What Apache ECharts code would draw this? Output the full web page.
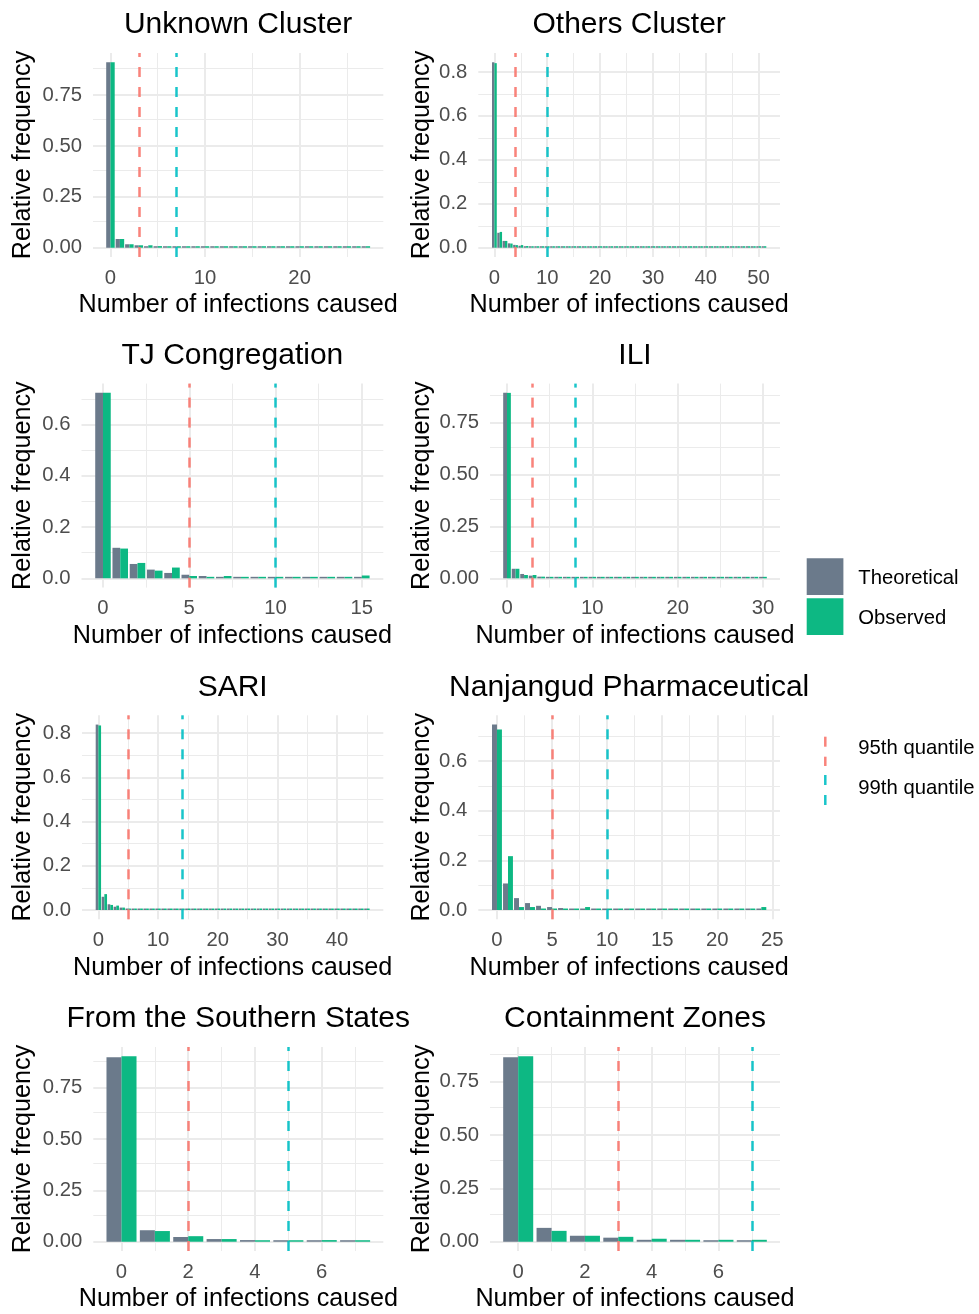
<!DOCTYPE html>
<html><head><meta charset="utf-8">
<script src="https://cdn.jsdelivr.net/npm/echarts@6/dist/echarts.min.js"></script>
<style>html,body{margin:0;padding:0;background:#fff}#c{width:979px;height:1314px}</style>
</head><body><div id="c"></div>
<script>
// ---------------- data ----------------
const panelTitles = ['Unknown Cluster', 'Others Cluster', 'TJ Congregation', 'ILI', 'SARI',
  'Nanjangud Pharmaceutical', 'From the Southern States', 'Containment Zones'];
const seriesNames = ['Theoretical', 'Observed'];
const quantileNames = ['95th quantile', '99th quantile'];
const xTitle = 'Number of infections caused';
const yTitle = 'Relative frequency';

const theoUnknown = [0.911, 0.043, 0.017, 0.012, 0.007, 0.004, 0.002, 0.001, 0.001, 0.001, 0.001, 0.001, 0.001, 0.001,
  0.001, 0.001, 0.001, 0.001, 0.001, 0.001, 0.001, 0.001, 0.001, 0.001, 0.001, 0.001, 0.001, 0.001];
const obsUnknown = [0.911, 0.043, 0.017, 0.012, 0.012, 0.008, 0.001, 0, 0, 0, 0, 0, 0, 0,
  0, 0, 0, 0, 0, 0, 0, 0, 0, 0, 0, 0, 0, 0.001];

const theoOthers = [0.844, 0.068, 0.031, 0.020, 0.013, 0.009, 0.006, 0.004, 0.003, 0.002, 0.002, 0.001, 0.001,
  0.001, 0.001, 0.001, 0.001, 0.001, 0.001, 0.001, 0.001, 0.001, 0.001, 0.001, 0.001, 0.001, 0.001,
  0.001, 0.001, 0.001, 0.001, 0.001, 0.001, 0.001, 0.001, 0.001, 0.001, 0.001, 0.001, 0.001, 0.001,
  0.001, 0.001, 0.001, 0.001, 0.001, 0.001, 0.001, 0.001, 0.001, 0.001, 0.001];
const obsOthers = [0.840, 0.072, 0.031, 0.019, 0.012, 0.012, 0.008, 0.003, 0.002, 0.001, 0.001, 0, 0,
  0, 0, 0, 0, 0, 0, 0, 0, 0, 0, 0, 0, 0, 0,
  0, 0, 0, 0, 0, 0, 0, 0, 0, 0, 0, 0, 0, 0,
  0, 0, 0, 0, 0, 0, 0, 0, 0, 0, 0.001];

const theoTJ = [0.723, 0.119, 0.056, 0.034, 0.021, 0.014, 0.009, 0.005, 0.003, 0.002, 0.002, 0.001, 0.002, 0.001, 0.001, 0.001];
const obsTJ = [0.723, 0.116, 0.060, 0.030, 0.042, 0.009, 0, 0.009, 0, 0, 0, 0, 0, 0, 0, 0.011];

const theoILI = [0.893, 0.046, 0.021, 0.013, 0.008, 0.005, 0.003, 0.002, 0.002, 0.001, 0.001, 0.001, 0.001, 0.001,
  0.001, 0.001, 0.001, 0.001, 0.001, 0.001, 0.001, 0.001, 0.001, 0.001, 0.001, 0.001, 0.001, 0.001, 0.001, 0.001, 0.001];
const obsILI = [0.893, 0.046, 0.016, 0.016, 0.008, 0.006, 0.002, 0.001, 0.001, 0, 0, 0, 0, 0,
  0, 0, 0, 0, 0, 0, 0, 0, 0, 0, 0, 0, 0, 0, 0, 0, 0.001];

const theoSARI = [0.839, 0.060, 0.026, 0.015, 0.011, 0.006, 0.004, 0.003, 0.002, 0.002, 0.001, 0.001, 0.001, 0.001,
  0.001, 0.001, 0.001, 0.001, 0.001, 0.001, 0.001, 0.001, 0.001, 0.001, 0.001, 0.001, 0.001, 0.001, 0.001, 0.001,
  0.001, 0.001, 0.001, 0.001, 0.001, 0.001, 0.001, 0.001, 0.001, 0.001, 0.001, 0.001, 0.001, 0.001, 0.001, 0.001];
const obsSARI = [0.835, 0.072, 0.023, 0.020, 0.011, 0.006, 0.004, 0.006, 0.001, 0.001, 0, 0, 0, 0,
  0, 0, 0, 0, 0, 0, 0, 0, 0, 0, 0, 0, 0, 0, 0, 0,
  0, 0, 0, 0, 0, 0, 0, 0, 0, 0, 0, 0, 0, 0, 0, 0.001];

const theoNanjangud = [0.747, 0.107, 0.048, 0.028, 0.017, 0.012, 0.008, 0.004, 0.004, 0.002, 0.002, 0.001, 0.001,
  0.001, 0.001, 0.001, 0.001, 0.001, 0.001, 0.001, 0.001, 0.001, 0.001, 0.001, 0.001];
const obsNanjangud = [0.727, 0.217, 0.012, 0.012, 0, 0, 0, 0, 0.012, 0, 0, 0, 0,
  0, 0, 0, 0, 0, 0, 0, 0, 0, 0, 0, 0.012];

const theoSouthern = [0.898, 0.056, 0.023, 0.013, 0.008, 0.003, 0.003, 0.002];
const obsSouthern = [0.903, 0.052, 0.027, 0.013, 0.003, 0, 0.008, 0.003];

const theoContainment = [0.865, 0.065, 0.028, 0.019, 0.009, 0.009, 0.005, 0.005];
const obsContainment = [0.870, 0.051, 0.028, 0.023, 0.014, 0.009, 0.009, 0.009];

const q95 = [3, 4, 5, 3, 5, 5, 2, 3];
const q99 = [7, 10, 10, 8, 14, 10, 5, 7];

const xBreaks = [[0, 10, 20], [0, 10, 20, 30, 40, 50], [0, 5, 10, 15], [0, 10, 20, 30],
  [0, 10, 20, 30, 40], [0, 5, 10, 15, 20, 25], [0, 2, 4, 6], [0, 2, 4, 6]];
const xMinorBreaks = [[5, 15, 25], [5, 15, 25, 35, 45], [2.5, 7.5, 12.5], [5, 15, 25],
  [5, 15, 25, 35, 45], [2.5, 7.5, 12.5, 17.5, 22.5], [1, 3, 5, 7], [1, 3, 5, 7]];
const yBreaks = [[0, 0.25, 0.5, 0.75], [0, 0.2, 0.4, 0.6, 0.8], [0, 0.2, 0.4, 0.6], [0, 0.25, 0.5, 0.75],
  [0, 0.2, 0.4, 0.6, 0.8], [0, 0.2, 0.4, 0.6], [0, 0.25, 0.5, 0.75], [0, 0.25, 0.5, 0.75]];
const yMinorBreaks = [[0.125, 0.375, 0.625, 0.875], [0.1, 0.3, 0.5, 0.7], [0.1, 0.3, 0.5, 0.7], [0.125, 0.375, 0.625, 0.875],
  [0.1, 0.3, 0.5, 0.7], [0.1, 0.3, 0.5, 0.7], [0.125, 0.375, 0.625, 0.875], [0.125, 0.375, 0.625, 0.875]];
const yDigits = [2, 1, 1, 2, 1, 1, 2, 2];

const theoAll = [theoUnknown, theoOthers, theoTJ, theoILI, theoSARI, theoNanjangud, theoSouthern, theoContainment];
const obsAll = [obsUnknown, obsOthers, obsTJ, obsILI, obsSARI, obsNanjangud, obsSouthern, obsContainment];

// ---------------- style / layout ----------------
const FONT = '"Liberation Sans", Arial, Helvetica, sans-serif';
const GRAY = '#6B7A8B', GREEN = '#0DB883', RED = '#F8766D', CYAN = '#00BFC4', GRID = '#EBEBEB';
const TICK_FS = 20.3, AXT_FS = 25.2, TITLE_FS = 30;
const panelLeft = [93, 478.3, 81.5, 490, 82, 478.3, 93.3, 490];
const colRight = [383.3, 780];
const rowTop = [53, 383.6, 715.3, 1047];
const PH = 204;
const yTitleX = [23.3, 421.6];

const grids = [], xAxes = [], yAxes = [], series = [], titles = [];

function barRenderer(offset, color) {
  return function (params, api) {
    const k = api.value(0), v = api.value(1);
    const a = api.coord([k + offset - 0.225, 0]);
    const b = api.coord([k + offset + 0.225, v]);
    const h = Math.max(a[1] - b[1], 1.5);
    return { type: 'rect', shape: { x: a[0], y: a[1] - h, width: b[0] - a[0], height: h },
      style: { fill: color } };
  };
}

for (let i = 0; i < 8; i++) {
  const col = i % 2, row = Math.floor(i / 2);
  const left = panelLeft[i], right = colRight[col], top = rowTop[row];
  const theo = theoAll[i], obs = obsAll[i];
  const kmax = theo.length - 1;
  const xSpan = kmax + 0.9;
  const ymax = Math.max(...theo, ...obs);
  grids.push({ left: left, top: top, width: right - left, height: PH, outerBoundsMode: 'none', containLabel: false });
  xAxes.push({
    type: 'value', gridIndex: i,
    min: -0.45 - 0.05 * xSpan, max: kmax + 0.45 + 0.05 * xSpan,
    axisLine: { show: false }, axisTick: { show: false }, splitLine: { show: false },
    axisLabel: { customValues: xBreaks[i], formatter: v => String(v), fontSize: TICK_FS, color: '#4D4D4D',
      fontFamily: FONT, margin: 11 },
    name: xTitle, nameLocation: 'middle', nameGap: 48.5, nameMoveOverlap: false,
    nameTextStyle: { fontSize: AXT_FS, color: '#000', fontFamily: FONT, verticalAlign: 'middle' }
  });
  const digits = yDigits[i];
  yAxes.push({
    type: 'value', gridIndex: i,
    min: -0.05 * ymax, max: 1.05 * ymax,
    axisLine: { show: false }, axisTick: { show: false }, splitLine: { show: false },
    axisLabel: { customValues: yBreaks[i], formatter: v => v.toFixed(digits), fontSize: TICK_FS, color: '#4D4D4D',
      fontFamily: FONT, margin: 11 },
    name: yTitle, nameLocation: 'middle', nameRotate: 90, nameGap: left - yTitleX[col], nameMoveOverlap: false,
    nameTextStyle: { fontSize: AXT_FS, color: '#000', fontFamily: FONT, verticalAlign: 'middle', align: 'center' }
  });
  titles.push({
    text: panelTitles[i], left: (left + right) / 2, top: top - 28, padding: 0,
    textAlign: 'center', textVerticalAlign: 'middle',
    textStyle: { fontSize: TITLE_FS, fontWeight: 'normal', color: '#000', fontFamily: FONT }
  });

  const gridLines = [];
  xBreaks[i].forEach(v => gridLines.push({ xAxis: v, lineStyle: { width: 2, color: GRID, type: 'solid' } }));
  xMinorBreaks[i].forEach(v => gridLines.push({ xAxis: v, lineStyle: { width: 1, color: GRID, type: 'solid' } }));
  yBreaks[i].forEach(v => gridLines.push({ yAxis: v, lineStyle: { width: 2, color: GRID, type: 'solid' } }));
  yMinorBreaks[i].forEach(v => gridLines.push({ yAxis: v, lineStyle: { width: 1, color: GRID, type: 'solid' } }));

  series.push({
    type: 'custom', name: 'grid' + i, xAxisIndex: i, yAxisIndex: i, z: 1, silent: true,
    data: [], renderItem: () => null,
    markLine: { silent: true, z: 1, symbol: ['none', 'none'], label: { show: false }, animation: false,
      emphasis: { disabled: true }, data: gridLines }
  });
  series.push({
    type: 'custom', name: seriesNames[0], xAxisIndex: i, yAxisIndex: i, z: 3, silent: true,
    encode: { x: 0, y: 1 },
    data: theo.map((v, k) => [k, v]), renderItem: barRenderer(-0.225, GRAY)
  });
  series.push({
    type: 'custom', name: seriesNames[1], xAxisIndex: i, yAxisIndex: i, z: 3, silent: true,
    encode: { x: 0, y: 1 },
    data: obs.map((v, k) => [k, v]), renderItem: barRenderer(0.225, GREEN),
    markLine: { silent: true, z: 5, symbol: ['none', 'none'], label: { show: false }, animation: false,
      emphasis: { disabled: true },
      data: [
        { xAxis: q95[i], lineStyle: { color: RED, width: 2.5, type: [10, 10], opacity: 0.9 } },
        { xAxis: q99[i], lineStyle: { color: CYAN, width: 2.5, type: [10, 10], opacity: 0.9 } }
      ] }
  });
}

const legendFont = TICK_FS + 'px ' + FONT;
const graphic = [
  { type: 'rect', shape: { x: 806.7, y: 558.3, width: 36.7, height: 36.7 }, style: { fill: GRAY } },
  { type: 'rect', shape: { x: 806.7, y: 598.3, width: 36.7, height: 36.7 }, style: { fill: GREEN } },
  { type: 'text', x: 858.3, y: 578.5, style: { text: seriesNames[0], fill: '#000', font: legendFont, verticalAlign: 'middle' } },
  { type: 'text', x: 858.3, y: 618.5, style: { text: seriesNames[1], fill: '#000', font: legendFont, verticalAlign: 'middle' } },
  { type: 'line', shape: { x1: 825.3, y1: 736.7, x2: 825.3, y2: 766 }, style: { stroke: RED, lineWidth: 2.5, lineDash: [10, 10], opacity: 0.9 } },
  { type: 'line', shape: { x1: 825.3, y1: 775, x2: 825.3, y2: 805 }, style: { stroke: CYAN, lineWidth: 2.5, lineDash: [10, 10], opacity: 0.9 } },
  { type: 'text', x: 858.3, y: 748.5, style: { text: quantileNames[0], fill: '#000', font: legendFont, verticalAlign: 'middle' } },
  { type: 'text', x: 858.3, y: 788.5, style: { text: quantileNames[1], fill: '#000', font: legendFont, verticalAlign: 'middle' } }
];

const chart = echarts.init(document.getElementById('c'), null, { renderer: 'canvas' });
chart.setOption({
  animation: false,
  backgroundColor: '#fff',
  textStyle: { fontFamily: FONT },
  title: titles, grid: grids, xAxis: xAxes, yAxis: yAxes, series: series, graphic: graphic
});
</script></body></html>
